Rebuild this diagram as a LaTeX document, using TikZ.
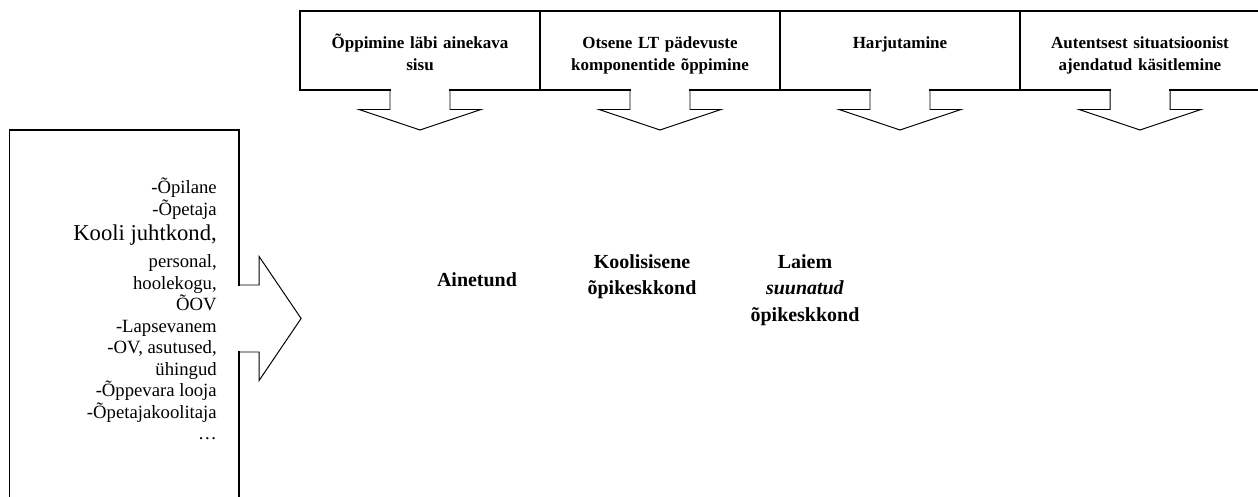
\documentclass[tikz,border=0pt]{standalone}
\usepackage{fontspec}
\setmainfont{Liberation Serif}

\begin{document}
\begin{tikzpicture}[tbox/.style={draw, line width=0.9pt, minimum width=6cm, minimum height=1.975cm, inner sep=0pt, outer sep=0pt},
	srcbox/.style={draw, line width=0.9pt, minimum width=5.74cm, minimum height=9.6cm, inner sep=0pt, outer sep=0pt},
	blk/.style={line width=0.7pt, line join=miter},
	toplbl/.style={font=\bfseries\fontsize{12.1}{15.3}\selectfont, align=center, text width=5.6cm, inner sep=0pt, anchor=base},
	midlbl/.style={font=\bfseries\fontsize{14.2}{18.85}\selectfont, align=center, text width=4cm, inner sep=0pt, anchor=base},
	srclbl/.style={font=\fontsize{13.3}{15.3}\selectfont, inner sep=0pt, anchor=base east},
	downblk/.pic={
		\fill[white] (-0.72,0.06) rectangle (0.72,-0.06);
		\draw[blk] (-0.75,0) -- (-0.75,-0.4875) -- (-1.525,-0.4875) -- (0,-1.0) -- (1.525,-0.4875) -- (0.75,-0.4875) -- (0.75,0);
	},
	rightblk/.pic={
		\fill[white] (-0.06,0.81) rectangle (0.06,-0.81);
		\draw[blk] (0,0.8375) -- (0.5,0.8375) -- (0.5,1.55) -- (1.55,0) -- (0.5,-1.55) -- (0.5,-0.8375) -- (0,-0.8375);
	}]
	\useasboundingbox (0,0) rectangle (31.45,-12.425);
	% top row
	\node[tbox] (t1) at (10.5,-1.2625) {};
	\node[tbox] (t2) at (16.5,-1.2625) {};
	\node[tbox] (t3) at (22.5,-1.2625) {};
	\node[tbox] (t4) at (28.5,-1.2625) {};
	\node[toplbl] (l1) at ([yshift=-0.95cm]t1.north) {Õppimine läbi ainekava\\sisu};
	\node[toplbl] (l2) at ([yshift=-0.95cm]t2.north) {Otsene LT pädevuste\\komponentide õppimine};
	\node[toplbl] (l3) at ([yshift=-0.95cm]t3.north) {Harjutamine};
	\node[toplbl] (l4) at ([yshift=-0.95cm]t4.north) {Autentsest situatsioonist\\ajendatud käsitlemine};
	\pic at (t1.south) {downblk};
	\pic at (t2.south) {downblk};
	\pic at (t3.south) {downblk};
	\pic at (t4.south) {downblk};
	% left box
	\node[srcbox, anchor=north west] (src) at (0.2375,-3.25) {};
	\pic at ([yshift=0.0875cm]src.east) {rightblk};
	\node[srclbl] (s1) at (5.425,-4.85) {-Õpilane};
	\node[srclbl] (s2) at (5.425,-5.3875) {-Õpetaja};
	\node[srclbl, font=\fontsize{16.1}{19}\selectfont] (s3) at (5.425,-6.0125) {Kooli juhtkond,};
	\node[srclbl] (s4) at (5.425,-6.7) {personal,};
	\node[srclbl] (s5) at (5.425,-7.2375) {hoolekogu,};
	\node[srclbl] (s6) at (5.425,-7.775) {ÕOV};
	\node[srclbl] (s7) at (5.425,-8.3125) {-Lapsevanem};
	\node[srclbl] (s8) at (5.425,-8.85) {-OV, asutused,};
	\node[srclbl] (s9) at (5.425,-9.3875) {ühingud};
	\node[srclbl] (s10) at (5.425,-9.925) {-Õppevara looja};
	\node[srclbl] (s11) at (5.425,-10.4625) {-Õpetajakoolitaja};
	\node[srclbl] (s12) at (5.425,-11.0) {…};
	% middle labels
	\node[midlbl] (m1) at (11.925,-7.1675) {Ainetund};
	\node[midlbl] (m2) at (16.05,-6.71) {Koolisisene\\õpikeskkond};
	\node[midlbl] (m3) at (20.125,-6.71) {Laiem\\\textit{suunatud}\\õpikeskkond};
\end{tikzpicture}
\end{document}
